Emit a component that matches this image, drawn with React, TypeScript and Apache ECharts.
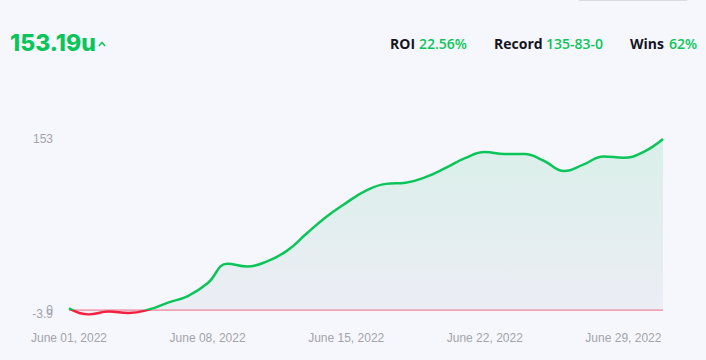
import React, { useEffect, useRef } from "react";
import * as echarts from "echarts";

const dates: string[] = [
  "June 01, 2022", "June 02, 2022", "June 03, 2022", "June 04, 2022", "June 05, 2022",
  "June 06, 2022", "June 07, 2022", "June 08, 2022", "June 09, 2022", "June 10, 2022",
  "June 11, 2022", "June 12, 2022", "June 13, 2022", "June 14, 2022", "June 15, 2022",
  "June 16, 2022", "June 17, 2022", "June 18, 2022", "June 19, 2022", "June 20, 2022",
  "June 21, 2022", "June 22, 2022", "June 23, 2022", "June 24, 2022", "June 25, 2022",
  "June 26, 2022", "June 27, 2022", "June 28, 2022", "June 29, 2022", "June 30, 2022",
  "July 01, 2022",
];

const units: number[] = [
  1.5, -3.9, -1.3, -2.7, 0.2, 6.7, 12.5, 24, 41.5, 39,
  43.6, 53, 68.5, 83.6, 96, 107, 113, 114, 119, 127,
  136, 141.5, 139.7, 139.7, 133.5, 124.5, 130.5, 137.6, 136.4, 141.5,
  153.19,
];

const baseline = 0;

const yTickValues: number[] = [-3.9, 0, 153.19];
const yTickLabels: string[] = ["-3.9", "0", "153"];

const headline = "153.19u";
const statLabels: string[] = ["ROI", "Record", "Wins"];
const statValues: string[] = ["22.56%", "135-83-0", "62%"];

const GREEN = "#0cc55a";
const RED = "#f5203f";

export default function App() {
  const ref = useRef<HTMLDivElement>(null);

  useEffect(() => {
    if (!ref.current) return;
    const chart = echarts.init(ref.current, undefined, { renderer: "svg" });
    const yMin = Math.min(...units);
    const yMax = Math.max(...units);
    const step = baseline - yMin;

    const f = (yMax - baseline) / (yMax - yMin);

    const labelFmt = (allowed: number[]) => (v: number) => {
      const idx = yTickValues.findIndex((t) => Math.abs(t - v) < 1e-6);
      if (idx < 0) return "";
      return allowed.includes(idx) ? yTickLabels[idx] : "";
    };

    const axisCommon = {
      type: "value",
      min: yMin,
      max: yMax,
      position: "left",
      splitLine: { show: false },
      axisLine: { show: false },
      axisTick: { show: false },
    };
    const labelCommon = {
      margin: 16,
      color: "#a3a3ab",
      fontSize: 12,
      fontFamily: "'Liberation Sans', Arial, sans-serif",
      hideOverlap: false,
    };

    const statLabelX = [390, 494, 630];
    const statValueX = [419, 546, 669];
    const statTexts: any[] = [];
    statLabels.forEach((l, i) => {
      statTexts.push({
        type: "text",
        x: statLabelX[i],
        y: 43,
        style: {
          text: l,
          fill: "#15151f",
          font: "bold 14px 'Open Sans', sans-serif",
          verticalAlign: "middle",
        },
      });
      statTexts.push({
        type: "text",
        x: statValueX[i],
        y: 43,
        style: {
          text: statValues[i],
          fill: GREEN,
          font: "600 14px 'Open Sans', sans-serif",
          verticalAlign: "middle",
        },
      });
    });

    chart.setOption({
      animation: false,
      backgroundColor: "#f6f7fc",
      grid: { left: 69, right: 43, top: 139, bottom: 45.6 },
      xAxis: {
        type: "category",
        data: dates,
        boundaryGap: false,
        axisLine: { show: false },
        axisTick: { show: false },
        splitLine: { show: false },
        axisLabel: {
          interval: 6,
          margin: 18,
          color: "#a3a3ab",
          fontSize: 12,
          fontFamily: "'Liberation Sans', Arial, sans-serif",
        },
      },
      yAxis: [
        {
          ...axisCommon,
          interval: step,
          axisLabel: {
            ...labelCommon,
            showMinLabel: false,
            showMaxLabel: true,
            formatter: labelFmt([1, 2]),
          },
        },
        {
          ...axisCommon,
          interval: yMax - yMin,
          axisLabel: {
            ...labelCommon,
            showMinLabel: true,
            showMaxLabel: false,
            formatter: labelFmt([0]),
          },
        },
      ],
      series: [
        {
          name: "zero",
          type: "line",
          data: dates.map(() => baseline),
          showSymbol: false,
          silent: true,
          lineStyle: { color: "#f4a3b2", width: 1.8 },
          z: 1,
        },
        {
          name: "units",
          type: "line",
          data: units,
          smooth: 0.45,
          showSymbol: false,
          lineStyle: {
            width: 2.5,
            color: new echarts.graphic.LinearGradient(0, 0, 0, 1, [
              { offset: 0, color: GREEN },
              { offset: Math.max(0, f - 0.003), color: GREEN },
              { offset: Math.min(1, f + 0.003), color: RED },
              { offset: 1, color: RED },
            ]),
          },
          areaStyle: {
            color: new echarts.graphic.LinearGradient(0, 0, 0, 1, [
              { offset: 0, color: "rgba(20,185,100,0.18)" },
              { offset: 1, color: "rgba(170,170,200,0.18)" },
            ]),
          },
          z: 3,
        },
      ],
      graphic: [
        {
          type: "rect",
          shape: { x: 578, y: -3, width: 110, height: 4, r: 2 },
          style: { fill: "#d9dbe1" },
        },
        {
          type: "text",
          x: 10,
          y: 43,
          style: {
            text: headline,
            fill: GREEN,
            font: "800 23px Inter, sans-serif",
            verticalAlign: "middle",
          },
        },
        {
          type: "polyline",
          shape: { points: [[99, 46], [102, 42.5], [105, 46]] },
          style: { stroke: GREEN, lineWidth: 1.5, fill: "none" },
        },
        ...statTexts,
      ],
    });
    return () => chart.dispose();
  }, []);

  return (
    <div
      ref={ref}
      style={{ position: "fixed", left: 0, top: 0, width: 706, height: 360, background: "#f6f7fc" }}
    />
  );
}
